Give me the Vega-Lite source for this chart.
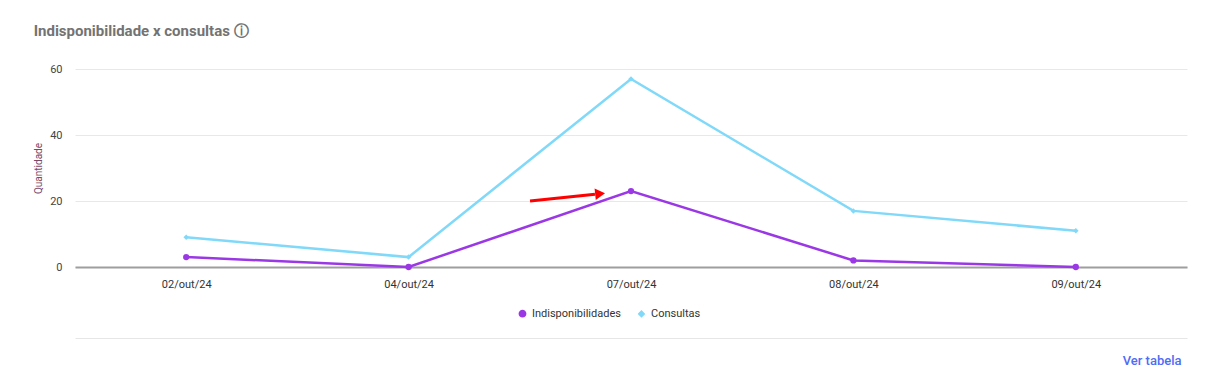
{
  "$schema": "https://vega.github.io/schema/vega-lite/v6.json",
  "width": 1112,
  "height": 198,
  "autosize": {"type": "none"},
  "padding": {"left": 75, "top": 69, "right": 32, "bottom": 123},
  "background": "white",
  "title": {
    "text": "Indisponibilidade x consultas ⓘ",
    "anchor": "start",
    "frame": "bounds",
    "font": "Roboto",
    "fontSize": 15,
    "fontWeight": "bold",
    "color": "#737373",
    "offset": 24
  },
  "config": {
    "view": {"stroke": null},
    "axis": {"labelFont": "Roboto", "titleFont": "Roboto"}
  },
  "datasets": {
    "series": [
      {"data": "02/out/24", "serie": "Indisponibilidades", "valor": 3},
      {"data": "04/out/24", "serie": "Indisponibilidades", "valor": 0},
      {"data": "07/out/24", "serie": "Indisponibilidades", "valor": 23},
      {"data": "08/out/24", "serie": "Indisponibilidades", "valor": 2},
      {"data": "09/out/24", "serie": "Indisponibilidades", "valor": 0},
      {"data": "02/out/24", "serie": "Consultas", "valor": 9},
      {"data": "04/out/24", "serie": "Consultas", "valor": 3},
      {"data": "07/out/24", "serie": "Consultas", "valor": 57},
      {"data": "08/out/24", "serie": "Consultas", "valor": 17},
      {"data": "09/out/24", "serie": "Consultas", "valor": 11}
    ],
    "seta": [
      {"pos": 1.546, "pos2": 1.838, "valor": 20.0, "valor2": 22.06}
    ],
    "ponta": [
      {"pos": 1.861, "valor": 22.2}
    ]
  },
  "layer": [
    {
      "data": {"name": "series"},
      "encoding": {
        "x": {
          "field": "data",
          "type": "ordinal",
          "sort": null,
          "scale": {"type": "point", "padding": 0.5},
          "axis": {
            "title": null,
            "labelAngle": 0,
            "labelFontSize": 11,
            "labelColor": "#333333",
            "labelPadding": 11,
            "ticks": false,
            "grid": false,
            "domainColor": "#9e9e9e",
            "domainWidth": 2
          }
        },
        "y": {
          "field": "valor",
          "type": "quantitative",
          "scale": {"domain": [0, 60], "nice": false},
          "axis": {
            "title": "Quantidade",
            "titleFontSize": 10,
            "titleFontWeight": "normal",
            "titleColor": "#7a4868",
            "titlePadding": 6,
            "values": [0, 20, 40, 60],
            "labelFontSize": 11,
            "labelColor": "#444444",
            "labelPadding": 13,
            "ticks": false,
            "domain": false,
            "grid": true,
            "gridColor": "#e8e8e8",
            "gridWidth": 1
          }
        },
        "color": {
          "field": "serie",
          "type": "nominal",
          "scale": {"domain": ["Indisponibilidades", "Consultas"], "range": ["#9b38e5", "#80d9f9"]},
          "legend": {
            "title": null,
            "orient": "none",
            "direction": "horizontal",
            "legendX": 442,
            "legendY": 239,
            "labelFont": "Roboto",
            "labelFontSize": 11,
            "labelColor": "#333333",
            "symbolSize": 60,
            "columnPadding": 14
          }
        }
      },
      "layer": [
        {"mark": {"type": "line", "strokeWidth": 2.5}},
        {
          "mark": {"type": "point", "filled": true, "opacity": 1},
          "encoding": {
            "shape": {
              "field": "serie",
              "type": "nominal",
              "scale": {"domain": ["Indisponibilidades", "Consultas"], "range": ["circle", "diamond"]},
              "legend": null
            },
            "size": {
              "field": "serie",
              "type": "nominal",
              "scale": {"domain": ["Indisponibilidades", "Consultas"], "range": [40, 30]},
              "legend": null
            }
          }
        }
      ]
    },
    {
      "layer": [
        {
          "data": {"name": "seta"},
          "mark": {"type": "rule", "color": "#ff0000", "strokeWidth": 3},
          "encoding": {
            "x": {
              "field": "pos",
              "type": "quantitative",
              "scale": {"domain": [-0.5, 4.5], "nice": false, "zero": false},
              "axis": {
                "orient": "bottom",
                "offset": 71,
                "labels": false,
                "ticks": false,
                "grid": false,
                "domainColor": "#e6e6e6",
                "domainWidth": 1,
                "title": "Ver tabela",
                "titleX": 1106,
                "titleAlign": "right",
                "titleColor": "#4f6cf5",
                "titleFontSize": 13,
                "titleFontWeight": 500,
                "titlePadding": 16
              }
            },
            "x2": {"field": "pos2"},
            "y": {"field": "valor", "type": "quantitative"},
            "y2": {"field": "valor2"}
          }
        },
        {
          "data": {"name": "ponta"},
          "mark": {"type": "point", "shape": "triangle-right", "filled": true, "color": "#ff0000", "opacity": 1, "size": 130, "angle": -6},
          "encoding": {
            "x": {"field": "pos", "type": "quantitative"},
            "y": {"field": "valor", "type": "quantitative"}
          }
        }
      ]
    }
  ],
  "resolve": {"scale": {"x": "independent"}, "axis": {"x": "independent"}}
}
